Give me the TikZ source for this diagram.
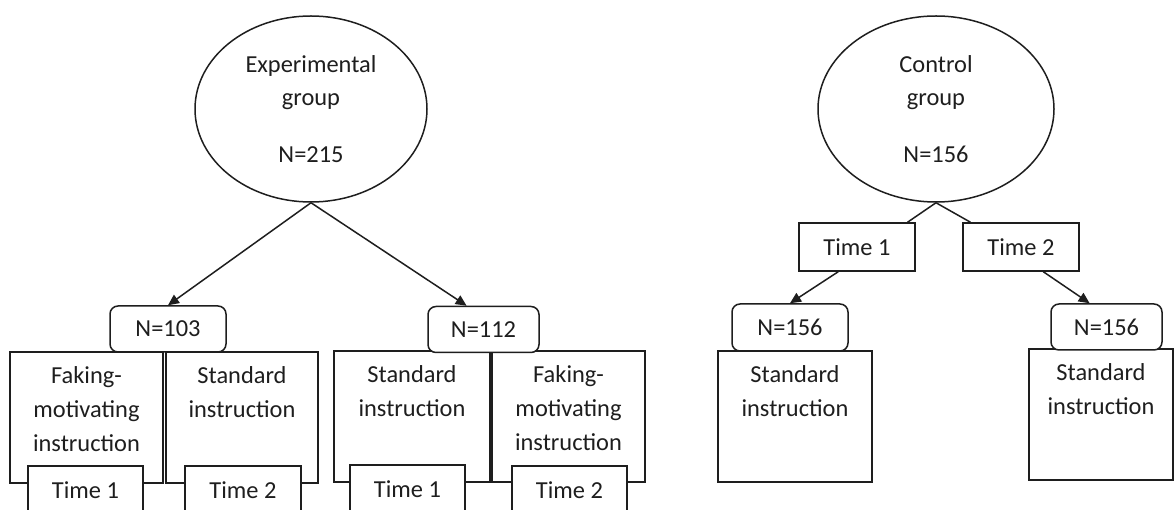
\documentclass[tikz,border=0pt]{standalone}
\usepackage{fontspec}
\setmainfont{Carlito}
\usepackage{tikz}
\usetikzlibrary{arrows.meta,calc,shapes.geometric}
\definecolor{inkgray}{HTML}{1E1E1E}

\begin{document}
\begin{tikzpicture}[x=1bp,y=-1bp,
  font=\fontsize{24.5}{34}\selectfont,text=inkgray,
  grp/.style={draw=inkgray,line width=1.5bp,ellipse,minimum height=186bp,inner sep=0pt,align=center},
  nbox/.style={draw=inkgray,line width=1.5bp,rounded corners=8bp,fill=white,minimum height=46bp,inner sep=0pt},
  instr/.style={draw=inkgray,line width=1.5bp,minimum height=131bp,inner sep=0pt},
  instrtxt/.style={anchor=north,align=center,inner sep=0pt,yshift=-15bp},
  tbox/.style={draw=inkgray,line width=1.5bp,fill=white,minimum width=115bp,minimum height=48bp,inner sep=0pt},
  link/.style={draw=inkgray,line width=1.5bp},
  arr/.style={link,-{Triangle[length=11bp,width=10bp]}}]
  \clip (0,0) rectangle (1174,510);

  % Experimental group
  \node[grp,minimum width=232bp] (exp) at (311,109) {Experimental\\group\\[23bp]N=215};

  \node[instr,minimum width=153bp] (a1) at (86.5,417.5) {};
  \node[instr,minimum width=152bp] (a2) at (242,417.5) {};
  \node[instr,minimum width=156bp] (b1) at (412,416.5) {};
  \node[instr,minimum width=153bp] (b2) at (568.5,416.5) {};
  \node[instrtxt] (a1t) at (a1.north) {Faking-\\motivating\\instruction};
  \node[instrtxt] (a2t) at (a2.north) {Standard\\instruction};
  \node[instrtxt] (b1t) at (b1.north) {Standard\\instruction};
  \node[instrtxt] (b2t) at (b2.north) {Faking-\\motivating\\instruction};

  \node[tbox] (ta1) at (85.5,490) {Time 1};
  \node[tbox,minimum width=116bp] (ta2) at (243,490) {Time 2};
  \node[tbox] (tb1) at (407.5,489) {Time 1};
  \node[tbox] (tb2) at (569.5,490) {Time 2};

  \node[nbox,minimum width=116bp] (n103) at (168,329) {N=103};
  \node[nbox,minimum width=111bp] (n112) at (483.5,329.5) {N=112};

  \draw[arr] (exp.south) -- (n103.north);
  \draw[arr] (exp.south) -- ($(n112.north west)!0.35!(n112.north east)$);

  % Control group
  \node[grp,minimum width=236bp] (ctl) at (936,109) {Control\\group\\[23bp]N=156};

  \node[tbox,minimum width=116bp] (c1) at (857,247) {Time 1};
  \node[tbox,minimum width=116bp] (c2) at (1021,247) {Time 2};

  \node[instr,minimum width=154bp] (s1) at (795,416.5) {};
  \node[instr,minimum width=144bp] (s2) at (1101,414.5) {};
  \node[instrtxt] (s1t) at (s1.north) {Standard\\instruction};
  \node[instrtxt] (s2t) at (s2.north) {Standard\\instruction};

  \node[nbox,minimum width=116bp,minimum height=47bp] (m1) at (790,327.5) {N=156};
  \node[nbox,minimum width=111bp] (m2) at (1106.5,327) {N=156};

  \draw[link] (ctl.south) -- ($(c1.north west)!0.93!(c1.north east)$);
  \draw[link] (ctl.south) -- ($(c2.north west)!0.07!(c2.north east)$);
  \draw[arr] ($(c1.south west)!0.34!(c1.south east)$) -- (m1.north);
  \draw[arr] ($(c2.south west)!0.69!(c2.south east)$) -- ($(m2.north west)!0.35!(m2.north east)$);
\end{tikzpicture}
\end{document}
